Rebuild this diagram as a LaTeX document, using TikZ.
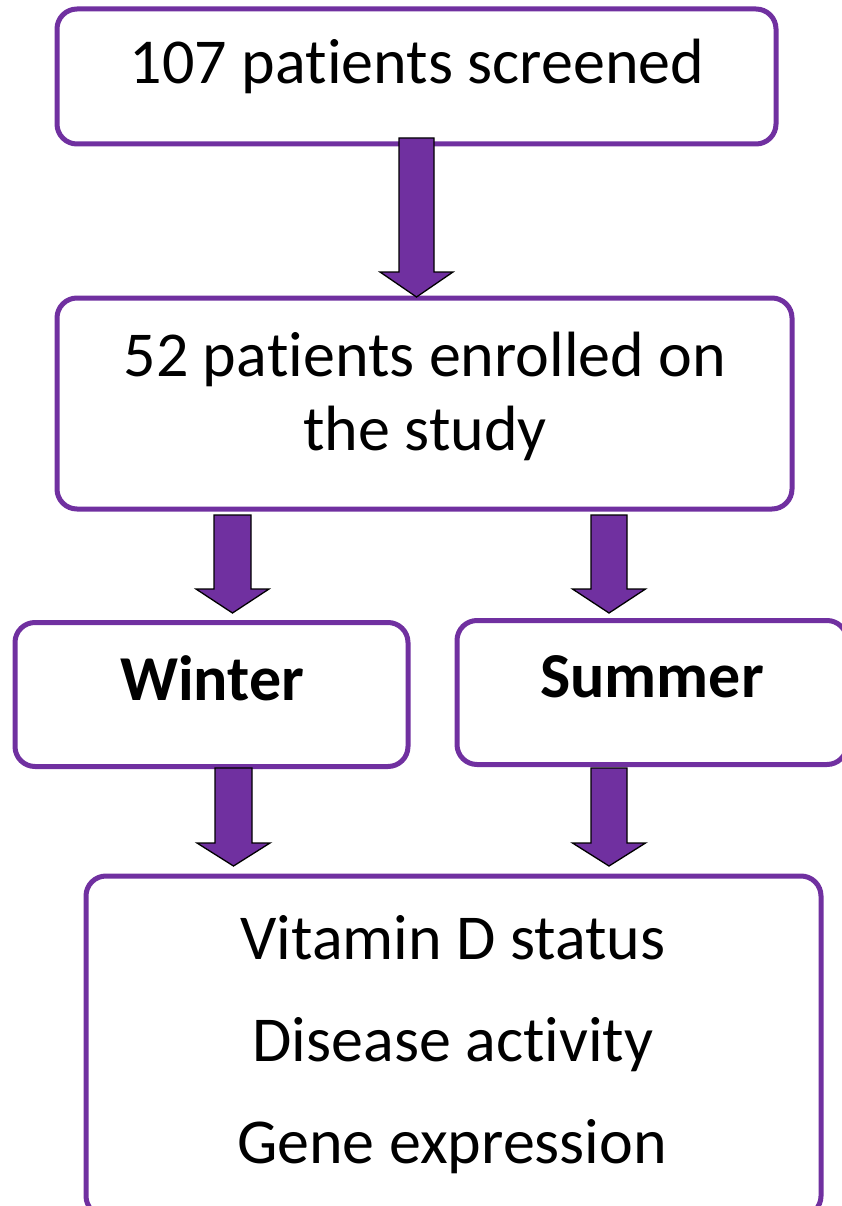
\documentclass[tikz,border=0pt]{standalone}
\usepackage{fontspec}
\setmainfont[Ligatures={NoCommon,NoRare,NoContextual},RawFeature={-liga;-clig;-dlig}]{Carlito}
\definecolor{vpurple}{HTML}{7030A0}
\newcommand{\tiNL}{\hbox{t}\hbox{i}}
\begin{document}
\begin{tikzpicture}[x=1pt,y=-1pt,
  box/.style={draw=vpurple, line width=5pt, rounded corners=20pt, fill=white, inner sep=0pt},
  txt/.style={anchor=base, inner sep=0pt, font=\fontsize{64}{77}\selectfont},
  btxt/.style={txt, font=\fontsize{64}{77}\selectfont\bfseries},
  barrow/.style={fill=vpurple, draw=black, line width=1.3pt, line join=miter}]
\useasboundingbox (0,0) rectangle (841,1206);
% boxes
\node[box, minimum width=719pt, minimum height=135pt] (b1) at (416.5,76.5) {};
\node[box, minimum width=735pt, minimum height=211pt] (b2) at (424.5,403.5) {};
\node[box, minimum width=393pt, minimum height=144pt] (bw) at (211.5,694.5) {};
\node[box, minimum width=390pt, minimum height=144pt] (bs) at (652,692.5) {};
\node[box, minimum width=735pt, minimum height=340pt] (b3) at (453.5,1046) {};
% texts
\node[txt] (t1) at (417,84) {107 pa\tiNL ents screened};
\node[txt] (t2a) at (425,376) {52 pa\tiNL ents enrolled on};
\node[txt] (t2b) at (425,450) {the study};
\node[btxt] (tw) at (212,700) {Winter};
\node[btxt] (ts) at (652,697) {Summer};
\node[txt] (t3a) at (453,959) {Vitamin D status};
\node[txt] (t3b) at (453,1061) {Disease ac\tiNL vity};
\node[txt] (t3c) at (452,1163) {Gene expression};
% block arrows
\newcommand{\blockarrow}[5]{% center x, top y, head y, tip y, shaft half-width
  \draw[barrow] (#1-#5,#2) -- (#1+#5,#2) -- (#1+#5,#3) -- (#1+36.5,#3) -- (#1,#4) -- (#1-36.5,#3) -- (#1-#5,#3) -- cycle;}
\blockarrow{416.5}{138}{272}{297}{17.5}
\blockarrow{232.5}{515}{589}{613}{18.5}
\blockarrow{609}{515}{589}{613}{18}
\blockarrow{233.5}{768}{843}{866}{18.5}
\blockarrow{609}{768}{843}{866}{18}
\end{tikzpicture}
\end{document}
